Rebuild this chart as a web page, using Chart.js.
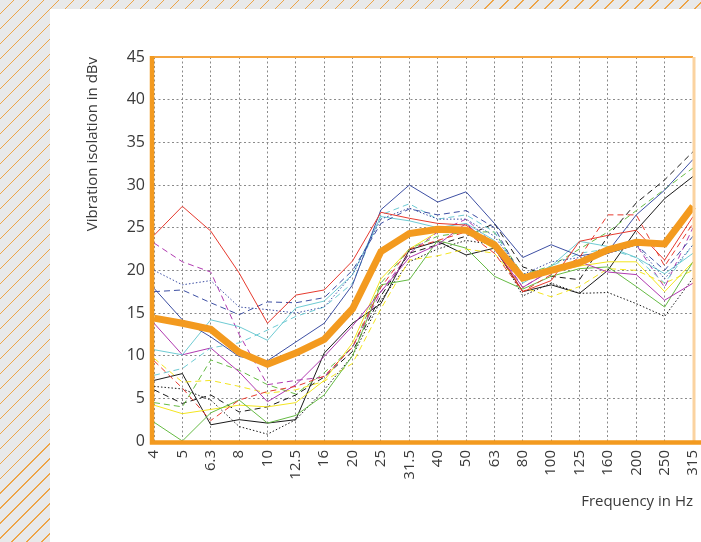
<!DOCTYPE html>
<html>
<head>
<meta charset="utf-8">
<script src="https://cdn.jsdelivr.net/npm/chart.js"></script>
<style>
  html, body { margin: 0; padding: 0; width: 701px; height: 542px; overflow: hidden; }
  body {
    background-color: #e8e9ea;
    background-image: repeating-linear-gradient(135deg, transparent 0 9.4px, #eda447 9.4px 10.6px);
  }
  #pannello { position: absolute; left: 50px; top: 9px; width: 651px; height: 533px; background: #fff; }
  #grafico { position: absolute; left: 0; top: 0; }
</style>
</head>
<body>
<div id="pannello"></div>
<canvas id="grafico" width="720" height="542"></canvas>
<script>
// Frequenze (asse x)
const frequenze = ['4', '5', '6.3', '8', '10', '12.5', '16', '20', '25', '31.5', '40', '50', '63', '80', '100', '125', '160', '200', '250', '315'];

// Valori in dBv
const media        = [14.4, 13.8, 13.1, 10.4, 9.0, 10.3, 11.9, 15.5, 22.2, 24.3, 24.8, 24.7, 23.0, 19.1, 20.0, 20.9, 22.4, 23.3, 23.1, 27.5];
const rossoPieno   = [24.1, 27.5, 24.6, 19.7, 13.8, 17.1, 17.7, 21.1, 26.8, 26.1, 25.5, 25.3, 22.8, 17.5, 18.8, 23.4, 24.1, 24.7, 21.2, 26.3];
const rossoTratt   = [9.4, 6.2, 2.4, 4.8, 5.8, 6.4, 7.6, 11.0, 18.0, 22.5, 23.5, 24.5, 22.0, 17.5, 19.5, 21.5, 26.5, 26.5, 20.5, 25.5];
const bluPieno     = [17.9, 14.2, 12.2, 9.9, 9.4, 11.6, 13.8, 18.3, 27.1, 30.0, 28.0, 29.2, 25.5, 21.5, 23.0, 21.7, 22.2, 26.5, 29.4, 33.0];
const bluTratt     = [17.5, 17.7, 16.2, 14.8, 16.3, 16.2, 16.8, 20.0, 25.5, 27.2, 26.5, 27.0, 25.0, 19.0, 20.0, 21.0, 22.0, 23.0, 20.0, 24.0];
const bluPunti     = [20.0, 18.3, 18.8, 15.7, 15.4, 15.0, 15.7, 19.5, 26.0, 27.3, 26.0, 26.0, 24.0, 19.5, 21.0, 21.5, 22.0, 23.0, 19.0, 23.0];
const cianoPieno   = [10.7, 10.1, 14.2, 13.4, 11.8, 15.6, 16.4, 19.5, 26.3, 25.8, 25.0, 25.5, 23.5, 18.5, 20.5, 23.4, 22.8, 21.5, 19.6, 22.0];
const cianoTratt   = [7.7, 8.5, 10.9, 11.5, 13.0, 14.6, 15.7, 18.5, 26.5, 27.8, 26.0, 26.5, 24.5, 19.0, 20.5, 22.0, 22.5, 21.5, 18.5, 23.0];
const magentaPieno = [13.8, 10.1, 10.9, 8.1, 4.6, 6.6, 9.9, 13.5, 17.5, 21.5, 23.0, 25.5, 22.5, 18.0, 20.0, 21.0, 19.8, 19.5, 16.5, 18.5];
const magentaTratt = [23.2, 21.0, 19.8, 12.5, 6.6, 7.1, 7.5, 11.0, 17.5, 22.0, 24.5, 26.0, 23.0, 18.0, 20.0, 21.0, 22.0, 23.0, 18.0, 25.0];
const verdePieno   = [2.2, 0.0, 3.3, 4.8, 2.1, 3.0, 5.4, 10.0, 18.3, 18.9, 23.5, 22.6, 19.3, 17.8, 19.3, 20.2, 20.4, 18.1, 15.7, 21.0];
const verdeTratt   = [4.5, 4.0, 9.5, 8.3, 6.6, 5.5, 8.0, 11.0, 18.5, 22.5, 24.0, 24.5, 24.5, 19.5, 20.5, 22.5, 24.5, 27.0, 29.5, 32.0];
const gialloPieno  = [4.2, 3.2, 3.7, 4.2, 4.0, 4.5, 7.1, 11.5, 19.0, 22.5, 24.5, 24.5, 22.5, 19.0, 19.8, 20.5, 21.0, 21.0, 17.5, 21.0];
const gialloTratt  = [9.7, 6.9, 7.1, 6.4, 5.6, 6.0, 7.0, 9.1, 15.5, 21.2, 21.7, 22.5, 22.0, 18.0, 16.9, 18.1, 20.2, 20.0, 18.5, 20.0];
const neroPieno    = [7.1, 7.9, 1.9, 2.5, 2.1, 2.5, 10.3, 13.8, 16.1, 22.4, 23.4, 21.8, 22.6, 17.5, 18.3, 17.3, 20.0, 24.7, 28.4, 31.0];
const neroTratt    = [6.0, 4.4, 5.4, 3.4, 4.0, 5.4, 7.5, 10.5, 17.0, 22.0, 23.0, 24.0, 25.5, 20.4, 19.3, 18.9, 24.0, 27.9, 30.6, 33.9];
const neroPunti    = [6.4, 6.1, 4.8, 1.7, 0.8, 2.5, 6.0, 10.0, 16.5, 21.0, 22.5, 23.5, 23.0, 17.0, 18.5, 17.3, 17.4, 16.1, 14.6, 19.1];

const TRATTO = [6, 4];
const PUNTI = [1.5, 2];

function serie(valori, colore, dash) {
  return { data: valori, borderColor: colore, borderWidth: 1, borderDash: dash || [], fill: false };
}

const datasets = [
  { data: media, borderColor: '#f39a1f', borderWidth: 7, borderJoinStyle: 'miter', fill: false },
  serie(rossoPieno, '#e63a2e'),
  serie(rossoTratt, '#e63a2e', TRATTO),
  serie(bluPieno, '#3d4fa3'),
  serie(bluTratt, '#3d4fa3', TRATTO),
  serie(bluPunti, '#3d4fa3', PUNTI),
  serie(cianoPieno, '#6fcbd3'),
  serie(cianoTratt, '#6fcbd3', TRATTO),
  serie(magentaPieno, '#b03ab0'),
  serie(magentaTratt, '#b03ab0', TRATTO),
  serie(verdePieno, '#66bb44'),
  serie(verdeTratt, '#66bb44', TRATTO),
  serie(gialloPieno, '#f3e520'),
  serie(gialloTratt, '#f3e520', TRATTO),
  serie(neroPieno, '#1a1a1a'),
  serie(neroTratt, '#1a1a1a', TRATTO),
  serie(neroPunti, '#1a1a1a', PUNTI)
];

// Cornice arancione attorno all'area del grafico
const cornice = {
  id: 'cornice',
  afterDatasetsDraw(chart) {
    const { ctx, chartArea: a } = chart;
    ctx.save();
    ctx.strokeStyle = '#f5a540';
    ctx.lineWidth = 2;
    ctx.beginPath();
    ctx.moveTo(a.left, a.top);
    ctx.lineTo(a.right, a.top);
    ctx.stroke();

    ctx.strokeStyle = '#fbd3a0';
    ctx.lineWidth = 3;
    ctx.beginPath();
    ctx.moveTo(a.right + 1, a.top);
    ctx.lineTo(a.right + 1, a.bottom);
    ctx.stroke();

    ctx.strokeStyle = '#f39a1f';
    ctx.lineWidth = 4.5;
    ctx.beginPath();
    ctx.moveTo(a.left - 2, a.top - 1);
    ctx.lineTo(a.left - 2, a.bottom + 3.5);
    ctx.moveTo(a.left - 4, a.bottom + 1.5);
    ctx.lineTo(a.right + 10, a.bottom + 1.5);
    ctx.stroke();
    ctx.restore();
  }
};

const testo = '#3a3a3a';
const fontBase = { family: "'Open Sans', sans-serif", size: 15 };

const ctx = document.getElementById('grafico').getContext('2d');
new Chart(ctx, {
  type: 'line',
  data: { labels: frequenze, datasets: datasets },
  options: {
    responsive: false,
    animation: false,
    layout: { padding: { top: 57, right: 24, left: 0, bottom: 0 } },
    plugins: { legend: { display: false }, tooltip: { enabled: false } },
    elements: { point: { radius: 0 }, line: { tension: 0 } },
    scales: {
      x: {
        grid: { color: '#8a8a8a', lineWidth: 1, drawTicks: false },
        border: { display: false, dash: [2, 2.5] },
        ticks: { color: testo, font: fontBase, minRotation: 90, maxRotation: 90, padding: 9, autoSkip: false },
        title: { display: true, text: 'Frequency in Hz', align: 'end', color: testo, font: fontBase, padding: { top: 0, bottom: 31 } },
        afterFit: (s) => { s.height = 101; }
      },
      y: {
        min: 0,
        max: 45,
        grid: { color: '#8a8a8a', lineWidth: 1, drawTicks: false },
        border: { display: false, dash: [2, 2.5] },
        ticks: { stepSize: 5, color: testo, font: { family: fontBase.family, size: 16 }, padding: 9 },
        title: { display: true, text: 'Vibration isolation in dBv', align: 'end', color: testo, font: fontBase, padding: { top: 84, bottom: 0 } },
        afterFit: (s) => { s.width = 154; }
      }
    }
  },
  plugins: [cornice]
});
</script>
</body>
</html>
